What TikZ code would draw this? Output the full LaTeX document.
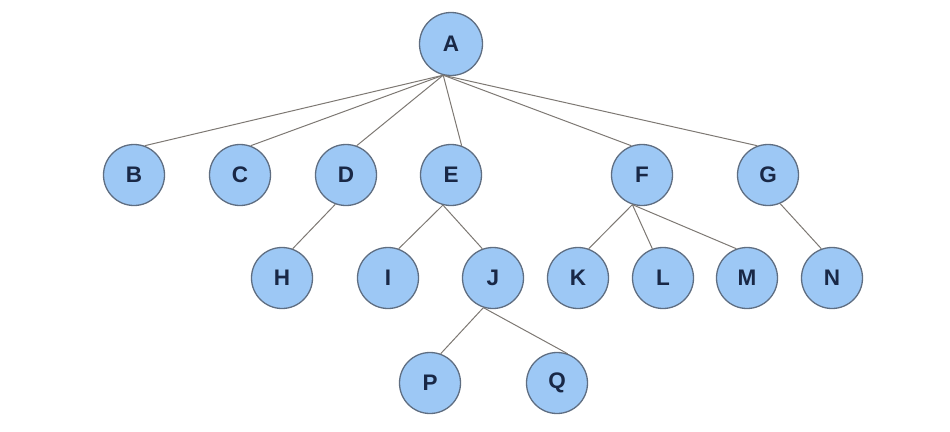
\documentclass[tikz,border=0pt]{standalone}
\usepackage{fontspec}
\setmainfont{Liberation Sans}
\definecolor{nodefill}{RGB}{157,200,245}
\definecolor{nodeline}{RGB}{95,110,130}
\definecolor{nodetext}{RGB}{25,40,70}
\definecolor{edgecol}{RGB}{125,120,115}
\begin{document}
\begin{tikzpicture}[x=1pt,y=-1pt,
  treenode/.style={circle,draw=nodeline,line width=1.3pt,fill=nodefill,
    minimum size=61pt,inner sep=0pt,text=nodetext,
    font=\fontsize{22.5}{22.5}\selectfont\bfseries},
  edge/.style={draw=edgecol,line width=1pt}]
\useasboundingbox (0,0) rectangle (950,431);
\node[treenode,minimum size=63pt] (A) at (451,44) {A};
\node[treenode] (B) at (134,175) {B};
\node[treenode] (C) at (240,175) {C};
\node[treenode] (D) at (346,175) {D};
\node[treenode] (E) at (451,175) {E};
\node[treenode] (F) at (642,175) {F};
\node[treenode] (G) at (768,175) {G};
\node[treenode] (H) at (282,278) {H};
\node[treenode] (I) at (388,278) {I};
\node[treenode] (J) at (493,278) {J};
\node[treenode] (K) at (578,278) {K};
\node[treenode] (L) at (663,278) {L};
\node[treenode] (M) at (747,278) {M};
\node[treenode] (N) at (832,278) {N};
\node[treenode] (P) at (430,383) {P};
\node[treenode] (Q) at (557,383) {Q};
\draw[edge] (A.256) -- (B.70);
\draw[edge] (A.256) -- (C.70);
\draw[edge] (A.256) -- (D.70);
\draw[edge] (A.256) -- (E.70);
\draw[edge] (A.256) -- (F.110);
\draw[edge] (A.256) -- (G.110);
\draw[edge] (D.250) -- (H.70);
\draw[edge] (E.255) -- (I.70);
\draw[edge] (E.255) -- (J.110);
\draw[edge] (F.252) -- (K.70);
\draw[edge] (F.252) -- (L.110);
\draw[edge] (F.252) -- (M.110);
\draw[edge] (G.293) -- (N.110);
\draw[edge] (J.252) -- (P.70);
\draw[edge] (J.252) -- (Q.70);
\end{tikzpicture}
\end{document}
